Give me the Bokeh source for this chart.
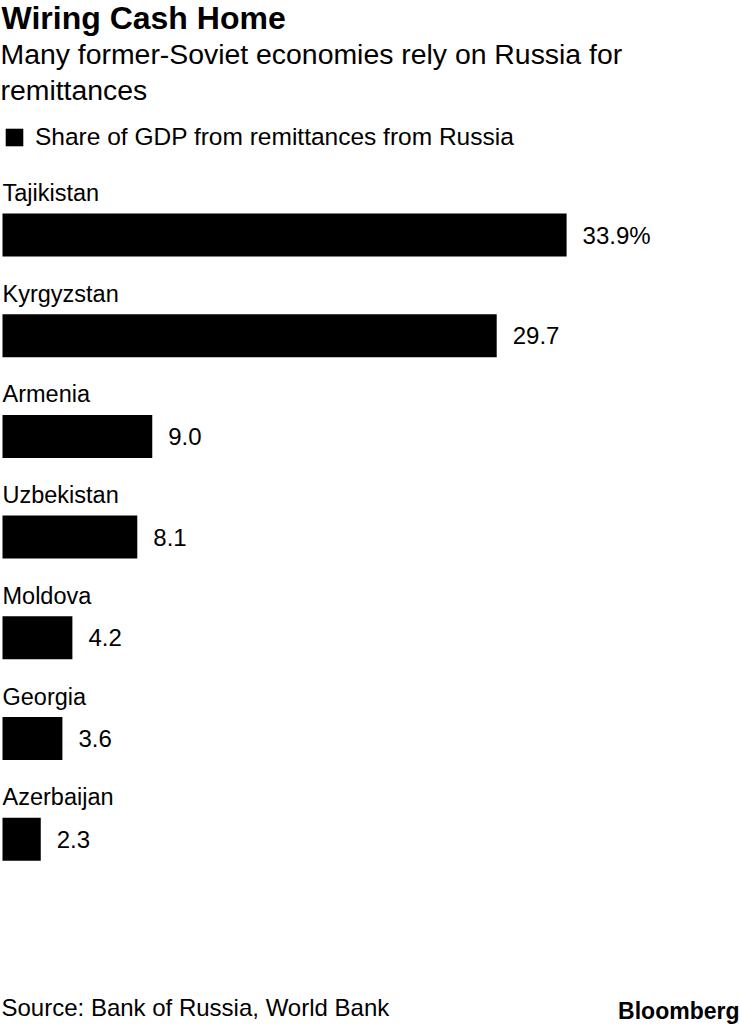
from bokeh.plotting import figure
from bokeh.models import Range1d, Label, Legend, LegendItem
from bokeh.embed import file_html
from bokeh.resources import INLINE
from bokeh.core.properties import value

# ---- data ----
countries = ["Tajikistan", "Kyrgyzstan", "Armenia", "Uzbekistan", "Moldova", "Georgia", "Azerbaijan"]
shares = [33.9, 29.7, 9.0, 8.1, 4.2, 3.6, 2.3]
value_labels = ["33.9%", "29.7", "9.0", "8.1", "4.2", "3.6", "2.3"]
title = "Wiring Cash Home"
subtitle = ["Many former-Soviet economies rely on Russia for", "remittances"]
legend_label = "Share of GDP from remittances from Russia"
source = "Source: Bank of Russia, World Bank"
brand = "Bloomberg"

FONT = "Liberation Sans"
W, H = 740, 1026
PX_PER_UNIT = 16.64          # horizontal pixels per percentage point
ROW_PX = 100.7               # vertical pixels per row
LEFT_PX = 2                  # bar start
FIRST_ROW_PX = 234.5         # centre of first bar from top

x0 = -LEFT_PX / PX_PER_UNIT
top_val = -FIRST_ROW_PX / ROW_PX

p = figure(width=W, height=H,
           x_range=Range1d(x0, x0 + W / PX_PER_UNIT),
           y_range=Range1d(top_val + H / ROW_PX, top_val),
           x_axis_type=None, y_axis_type=None,
           output_backend="svg", toolbar_location=None,
           min_border=0)
p.grid.visible = False
p.outline_line_color = None
p.background_fill_color = "white"
p.border_fill_color = "white"


def sx(px):
    return x0 + px / PX_PER_UNIT


def sy(py):
    return top_val + py / ROW_PX


rows = list(range(len(countries)))
bars = p.hbar(y=rows, left=0, right=shares, height=43 / ROW_PX,
              fill_color="black", line_color=None)

p.text(x=[0] * len(rows), y=rows, text=countries, y_offset=-42,
       text_font=value(FONT), text_font_size="23.5px", text_color="black",
       text_baseline="middle", text_align="left")

p.text(x=shares, y=rows, text=value_labels, x_offset=16,
       text_font=value(FONT), text_font_size="24px", text_color="black",
       text_baseline="middle", text_align="left")

# titles
p.add_layout(Label(x=sx(1), y=sy(17), text=title, text_font=FONT,
                   text_font_size="32px", text_font_style="bold",
                   text_color="black", text_baseline="middle"))
p.add_layout(Label(x=sx(0), y=sy(53), text=subtitle[0], text_font=FONT,
                   text_font_size="28.4px", text_color="black",
                   text_baseline="middle"))
p.add_layout(Label(x=sx(0), y=sy(89), text=subtitle[1], text_font=FONT,
                   text_font_size="28.4px", text_color="black",
                   text_baseline="middle"))

# legend
legend = Legend(items=[LegendItem(label=legend_label, renderers=[bars])],
                location=(3, H - 151), orientation="horizontal",
                padding=0, margin=0, spacing=0,
                glyph_width=22, glyph_height=22, label_height=22,
                label_standoff=10, label_text_font=FONT,
                label_text_font_size="24.5px", label_text_color="black",
                border_line_color=None, background_fill_alpha=0)
p.add_layout(legend)

# footer
p.add_layout(Label(x=sx(1), y=sy(1007), text=source, text_font=FONT,
                   text_font_size="24px", text_color="black",
                   text_baseline="middle"))
p.add_layout(Label(x=sx(739), y=sy(1010), text=brand, text_font=FONT,
                   text_font_size="23px", text_font_style="bold",
                   text_color="black", text_baseline="middle",
                   text_align="right"))

open("out.html", "w").write(file_html(p, INLINE))
